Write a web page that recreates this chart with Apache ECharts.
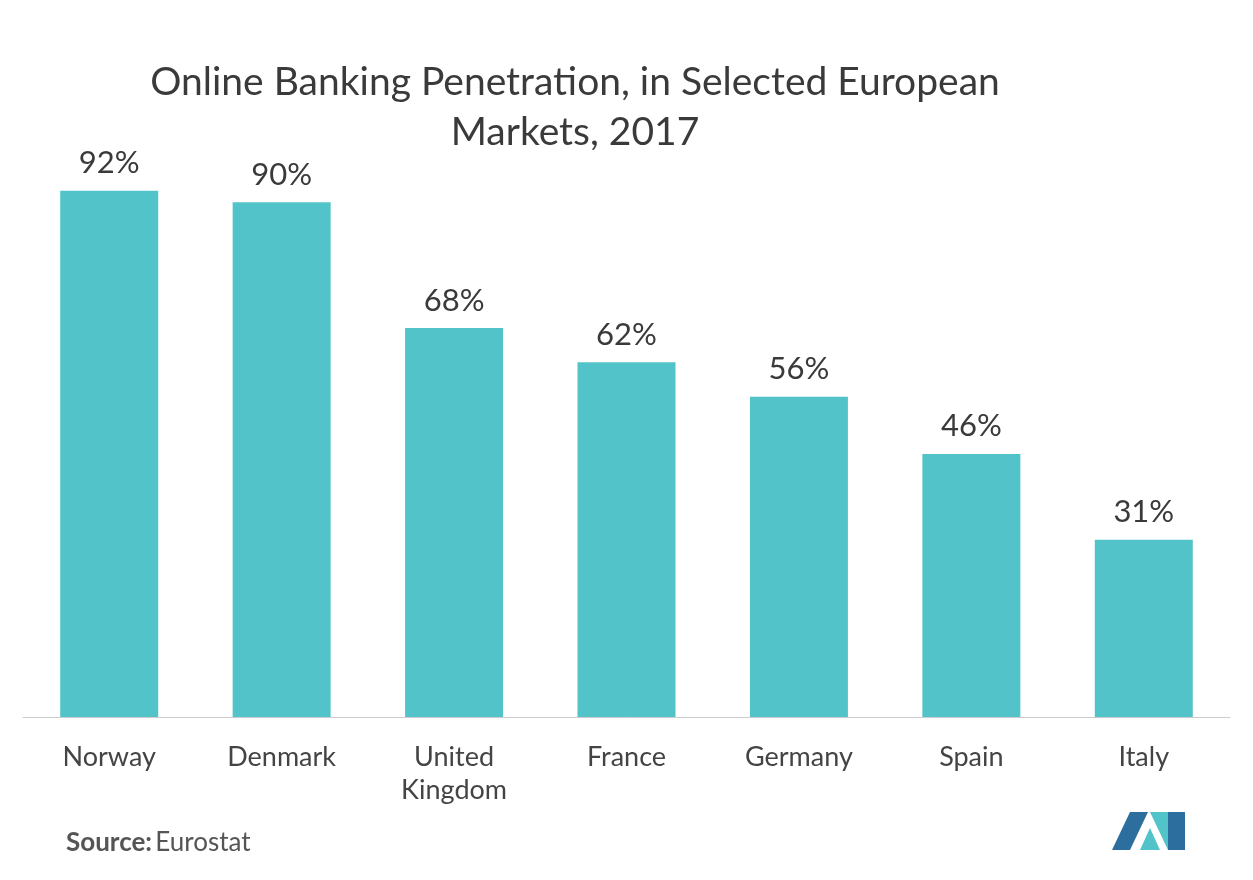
<!DOCTYPE html>
<html><head><meta charset="utf-8">
<script src="https://cdn.jsdelivr.net/npm/echarts@6/dist/echarts.min.js"></script>
<style>html,body{margin:0;padding:0;background:#fff}#c{width:1253px;height:880px}</style>
</head><body><div id="c"></div>
<script>
const categories = ['Norway','Denmark','United\nKingdom','France','Germany','Spain','Italy'];
const values = [92,90,68,62,56,46,31];
const chart = echarts.init(document.getElementById('c'));
chart.setOption({
  animation:false,
  title:{text:'Online Banking Penetration, in Selected European\nMarkets, 2017',left:570,textAlign:'center',top:52,
    textStyle:{fontFamily:'Lato',fontWeight:'normal',fontSize:39,color:'#3a3a3a',lineHeight:50}},
  grid:{left:23,right:23,top:145,bottom:163},
  xAxis:{type:'category',data:categories,axisTick:{show:false},
    axisLine:{lineStyle:{color:'#ccc',width:1}},
    axisLabel:{fontFamily:'Lato',fontSize:27,color:'#444',margin:24,lineHeight:33}},
  yAxis:{type:'value',min:0,max:100,show:false,splitLine:{show:false}},
  series:[{type:'bar',data:values,barWidth:98,itemStyle:{color:'#52c4c9'},
    label:{show:true,position:'top',distance:12,formatter:'{c}%',fontFamily:'Lato',fontSize:31,color:'#3a3a3a'}}],
  graphic:[
    {type:'text',left:66,top:830,style:{rich:{b:{fontWeight:'bold',fontFamily:'Lato',fontSize:26,fill:'#555'},n:{fontFamily:'Lato',fontSize:26,fill:'#555'}},text:'{b|Source:} {n|Eurostat}'}},
    {type:'polygon',shape:{points:[[1112,850],[1130,812],[1148,812],[1130,850]]},style:{fill:'#2c6f9e'}},
    {type:'polygon',shape:{points:[[1140,850],[1150,828],[1160,850]]},style:{fill:'#52c4c9'}},
    {type:'polygon',shape:{points:[[1150,812],[1168,812],[1168,850]]},style:{fill:'#52c4c9'}},
    {type:'polygon',shape:{points:[[1168,812],[1185,812],[1185,850],[1168,850]]},style:{fill:'#2c6f9e'}}
  ]
});
</script></body></html>
